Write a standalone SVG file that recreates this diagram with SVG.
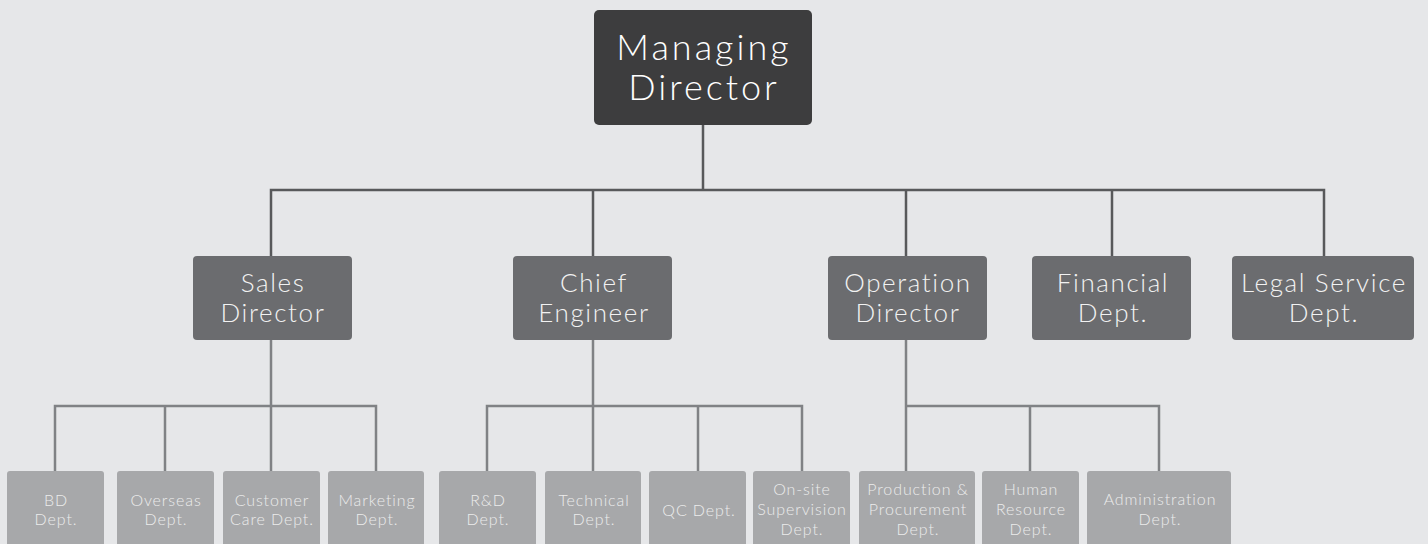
<svg xmlns="http://www.w3.org/2000/svg" width="1428" height="544" viewBox="0 0 1428 544">
<style>
.bg{fill:#e6e7e9}
.n0{fill:#3d3d3e}
.n1{fill:#6b6c6f}
.n2{fill:#a7a8aa}
.t{font-family:Lato,"Open Sans","Liberation Sans",sans-serif;font-weight:300;text-anchor:middle}
.t0{font-size:36px;letter-spacing:3px;fill:#ffffff}
.t1{font-size:26px;letter-spacing:1.6px;fill:#f2f2f2}
.t2{font-size:16px;letter-spacing:0.9px;fill:#ececec}
.c1{stroke:#58595b;stroke-width:2.5;fill:none}
.c2{stroke:#808285;stroke-width:2.5;fill:none}
</style>
<rect class="bg" x="0" y="0" width="1428" height="544"/>
<g id="connectors">
<path class="c1" d="M703 125V190M271 256V190H1324V256M593 190V256M906 190V256M1112 190V256"/>
<path class="c2" d="M271 340V406M55 471V406H376V471M165 406V471M271 406V471"/>
<path class="c2" d="M593 340V406M487 471V406H802V471M593 406V471M698 406V471"/>
<path class="c2" d="M906 340V406M906 471V406H1159V471M1030 406V471"/>
</g>
<g id="managing-director"><rect class="n0" x="594" y="10" width="218" height="115" rx="5"/><text class="t t0" x="704" y="60">Managing</text><text class="t t0" x="704" y="100">Director</text></g>
<g id="sales-director"><rect class="n1" x="193" y="256" width="159" height="84" rx="4"/><text class="t t1" x="273" y="292">Sales</text><text class="t t1" x="273" y="322">Director</text></g>
<g id="chief-engineer"><rect class="n1" x="513" y="256" width="159" height="84" rx="4"/><text class="t t1" x="594" y="292">Chief</text><text class="t t1" x="594" y="322">Engineer</text></g>
<g id="operation-director"><rect class="n1" x="828" y="256" width="159" height="84" rx="4"/><text class="t t1" x="908" y="292">Operation</text><text class="t t1" x="908" y="322">Director</text></g>
<g id="financial-dept"><rect class="n1" x="1032" y="256" width="159" height="84" rx="4"/><text class="t t1" x="1113" y="292">Financial</text><text class="t t1" x="1113" y="322">Dept.</text></g>
<g id="legal-service-dept"><rect class="n1" x="1232" y="256" width="182" height="84" rx="4"/><text class="t t1" x="1324" y="292">Legal Service</text><text class="t t1" x="1324" y="322">Dept.</text></g>
<g id="bd-dept"><rect class="n2" x="7" y="471" width="97" height="80" rx="3"/><text class="t t2" x="56" y="506">BD</text><text class="t t2" x="56" y="525">Dept.</text></g>
<g id="overseas-dept"><rect class="n2" x="117" y="471" width="97" height="80" rx="3"/><text class="t t2" x="166" y="506">Overseas</text><text class="t t2" x="166" y="525">Dept.</text></g>
<g id="customer-care-dept"><rect class="n2" x="223" y="471" width="97" height="80" rx="3"/><text class="t t2" x="272" y="506">Customer</text><text class="t t2" x="272" y="525">Care Dept.</text></g>
<g id="marketing-dept"><rect class="n2" x="328" y="471" width="96" height="80" rx="3"/><text class="t t2" x="377" y="506">Marketing</text><text class="t t2" x="377" y="525">Dept.</text></g>
<g id="rnd-dept"><rect class="n2" x="439" y="471" width="97" height="80" rx="3"/><text class="t t2" x="488" y="506">R&amp;D</text><text class="t t2" x="488" y="525">Dept.</text></g>
<g id="technical-dept"><rect class="n2" x="545" y="471" width="96" height="80" rx="3"/><text class="t t2" x="594" y="506">Technical</text><text class="t t2" x="594" y="525">Dept.</text></g>
<g id="qc-dept"><rect class="n2" x="649" y="471" width="97" height="80" rx="3"/><text class="t t2" x="699" y="516">QC Dept.</text></g>
<g id="onsite-supervision-dept"><rect class="n2" x="753" y="471" width="97" height="80" rx="3"/><text class="t t2" x="802" y="495">On-site</text><text class="t t2" x="802" y="515">Supervision</text><text class="t t2" x="802" y="535">Dept.</text></g>
<g id="production-procurement-dept"><rect class="n2" x="859" y="471" width="116" height="80" rx="3"/><text class="t t2" x="918" y="495">Production &amp;</text><text class="t t2" x="918" y="515">Procurement</text><text class="t t2" x="918" y="535">Dept.</text></g>
<g id="human-resource-dept"><rect class="n2" x="982" y="471" width="97" height="80" rx="3"/><text class="t t2" x="1031" y="495">Human</text><text class="t t2" x="1031" y="515">Resource</text><text class="t t2" x="1031" y="535">Dept.</text></g>
<g id="administration-dept"><rect class="n2" x="1087" y="471" width="144" height="80" rx="3"/><text class="t t2" x="1160" y="505">Administration</text><text class="t t2" x="1160" y="525">Dept.</text></g>
</svg>
